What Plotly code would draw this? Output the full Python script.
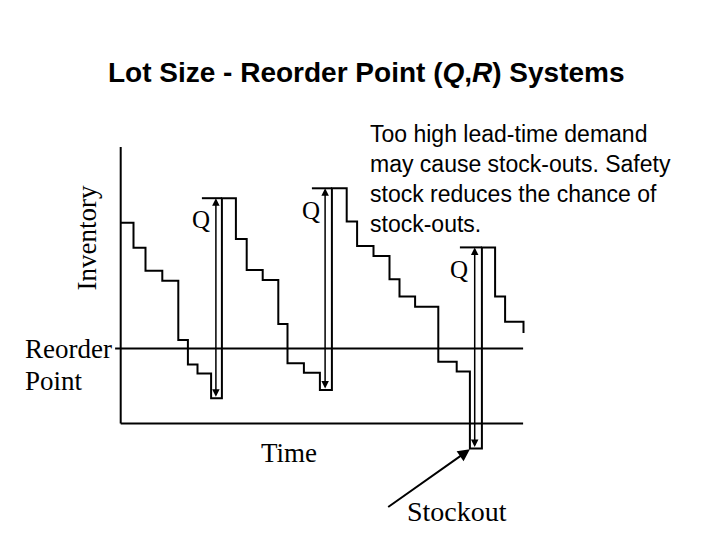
import plotly.graph_objects as go

# Inventory path: (time, level after event) - step function
event_time = [0, 3.2, 6.2, 10.4, 14.4, 16.8, 19.2, 22.6, 25.3, 28.8, 31.5, 35.5, 39.4, 41.7, 45.8, 49.8,
              52.8, 56.5, 59.1, 63.2, 67.2, 69.7, 73.6, 79.4, 84.0, 87.3, 90.3, 93.6, 96.1, 100.7]
inventory = [66.9, 58.6, 50.9, 47.6, 27.8, 19.7, 16.7, 8.4, 75.1, 61.5, 51.2, 47.8, 33.2, 20.1, 16.9, 11.2,
             78.4, 67.3, 59.2, 55.8, 48.1, 42.3, 38.9, 20.6, 17.3, -8.3, 58.7, 42.3, 33.9, 30.2]

reorder_point = 25
time_end = 100.6
inv_axis_top = 92.2

# Order quantity Q markers: arrow time, bottom level, top level, left tick start
q_arrow_t = [23.8, 51.1, 88.5]
q_bottom = [8.4, 11.2, -8.3]
q_top = [75.1, 78.4, 58.7]
q_tick_start = [20.3, 47.8, 84.8]
q_receipt_t = [25.3, 52.8, 90.3]
q_label_t = [20.0, 47.6, 84.6]
q_label_v = [68.0, 71.0, 51.5]

# Stockout pointer
stockout_from = (66.5, -28.2)
stockout_to = (87.3, -8.6)

OFF = 8  # page body margin in px


def px(x):
    return (x - OFF) / 720


def py(y):
    return 1 - (y - OFF) / 540


fig = go.Figure()
fig.add_trace(go.Scatter(x=event_time, y=inventory, mode="lines", line=dict(color="black", width=2, shape="hv"),
                         hoverinfo="skip", showlegend=False))

line_style = dict(color="black", width=2)
# axes
fig.add_shape(type="line", x0=0, x1=0, y0=0, y1=inv_axis_top, xref="x", yref="y", line=line_style)
fig.add_shape(type="line", x0=0, x1=time_end, y0=0, y1=0, xref="x", yref="y", line=line_style)
fig.add_shape(type="line", x0=-1.4, x1=time_end, y0=reorder_point, y1=reorder_point, xref="x", yref="y", line=line_style)

for ta, b, tp, ts, tr, lt, lv in zip(q_arrow_t, q_bottom, q_top, q_tick_start, q_receipt_t, q_label_t, q_label_v):
    fig.add_shape(type="line", x0=ts, x1=tr, y0=tp, y1=tp, xref="x", yref="y", line=line_style)
    fig.add_annotation(x=ta, y=tp, ax=ta, ay=b, xref="x", yref="y", axref="x", ayref="y",
                       showarrow=True, arrowhead=2, startarrowhead=2, arrowside="end+start",
                       arrowsize=1, startarrowsize=1, arrowwidth=1.5, arrowcolor="black", text="")
    fig.add_annotation(x=lt, y=lv, xref="x", yref="y", text="Q", showarrow=False,
                       xanchor="center", yanchor="middle",
                       font=dict(family="Liberation Serif", size=25, color="black"))

fig.add_annotation(x=stockout_to[0], y=stockout_to[1], ax=stockout_from[0], ay=stockout_from[1],
                   xref="x", yref="y", axref="x", ayref="y", showarrow=True, arrowhead=2,
                   arrowsize=1.2, arrowwidth=2, arrowcolor="black", text="")

serif = dict(family="Liberation Serif", size=27, color="black")


def label(x, y, text, size=27, angle=0, xanchor="center"):
    fig.add_annotation(x=px(x), y=py(y), xref="paper", yref="paper", text=text, textangle=angle,
                       showarrow=False, xanchor=xanchor, yanchor="middle",
                       font=dict(family="Liberation Serif", size=size, color="black"))


label(86.5, 238, "Inventory", angle=-90)
label(23, 349, "Reorder", xanchor="left")
label(23, 381, "Point", xanchor="left")
label(289, 453, "Time")
label(456.5, 511, "Stockout", size=28)

fig.add_annotation(x=px(366), y=py(73), xref="paper", yref="paper", xanchor="center", yanchor="middle",
                   text="<b>Lot Size - Reorder Point (<i>Q</i>,<i>R</i>) Systems</b>", showarrow=False,
                   font=dict(family="Liberation Sans", size=28, color="black"))
fig.add_annotation(x=px(368), y=py(119), xref="paper", yref="paper",
                   text="Too high lead-time demand<br>may cause stock-outs. Safety<br>stock reduces the chance of<br>stock-outs.",
                   showarrow=False, xanchor="left", yanchor="top", align="left",
                   font=dict(family="Liberation Sans", size=23, color="black"))

fig.update_layout(width=720, height=540, margin=dict(l=0, r=0, t=0, b=0), plot_bgcolor="white",
                  paper_bgcolor="white", showlegend=False)
fig.update_xaxes(range=[-28.175, 151.825], visible=False)
fig.update_yaxes(range=[-41.5, 138.5], visible=False)
fig.write_html("out.html")
